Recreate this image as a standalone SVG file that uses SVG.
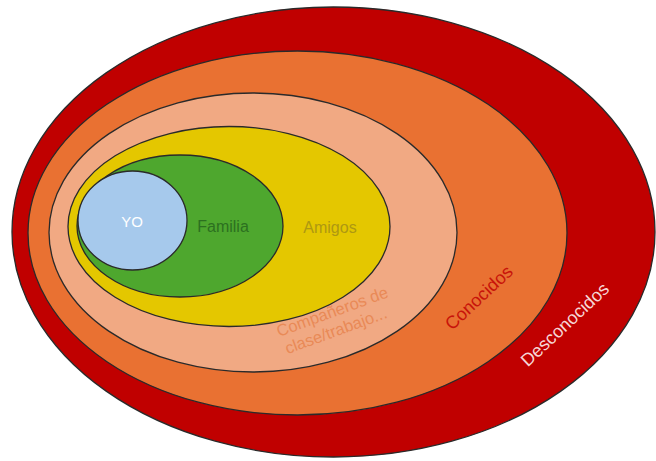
<svg xmlns="http://www.w3.org/2000/svg" width="656" height="461" viewBox="0 0 656 461">
  <style>
    .ring { stroke: #2a2a2a; stroke-width: 1.3; }
    .lbl { font-family: "Liberation Sans", Arial, sans-serif; font-size: 16px; }
  </style>
  <rect width="656" height="461" fill="#ffffff"/>
  <g id="desconocidos">
    <ellipse class="ring" cx="333.5" cy="232" rx="321.5" ry="225" fill="#C00000"/>
  </g>
  <g id="conocidos">
    <ellipse class="ring" cx="297.5" cy="233" rx="269.5" ry="182" fill="#E97132"/>
  </g>
  <g id="companeros">
    <ellipse class="ring" cx="253" cy="232.5" rx="204" ry="139.5" fill="#F1A983"/>
  </g>
  <g id="amigos">
    <ellipse class="ring" cx="229" cy="226.5" rx="161" ry="100" fill="#E4C700"/>
  </g>
  <g id="familia">
    <ellipse class="ring" cx="180" cy="226" rx="103" ry="71" fill="#4EA72E"/>
  </g>
  <g id="yo">
    <ellipse class="ring" cx="132.5" cy="220.5" rx="54.5" ry="49.5" fill="#A6C9EC"/>
  </g>
  <g id="labels">
    <text class="lbl" x="132" y="227" text-anchor="middle" fill="#ffffff" style="font-size:15px">YO</text>
    <text class="lbl" x="223" y="232" text-anchor="middle" fill="#2C7020">Familia</text>
    <text class="lbl" x="330" y="233" text-anchor="middle" fill="#AE9812">Amigos</text>
    <g transform="translate(279 337) rotate(-20)">
      <text class="lbl" x="0" y="0" fill="#E98A57" style="font-size:16.5px">Compañeros de</text>
      <text class="lbl" x="2" y="19" fill="#E98A57" style="font-size:16.5px">clase/trabajo...</text>
    </g>
    <text class="lbl" transform="translate(483 302) rotate(-43)" text-anchor="middle" fill="#C8140A" style="font-size:18px">Conocidos</text>
    <text class="lbl" transform="translate(569 329) rotate(-43)" text-anchor="middle" fill="#F6D6D6" style="font-size:18px">Desconocidos</text>
  </g>
</svg>
